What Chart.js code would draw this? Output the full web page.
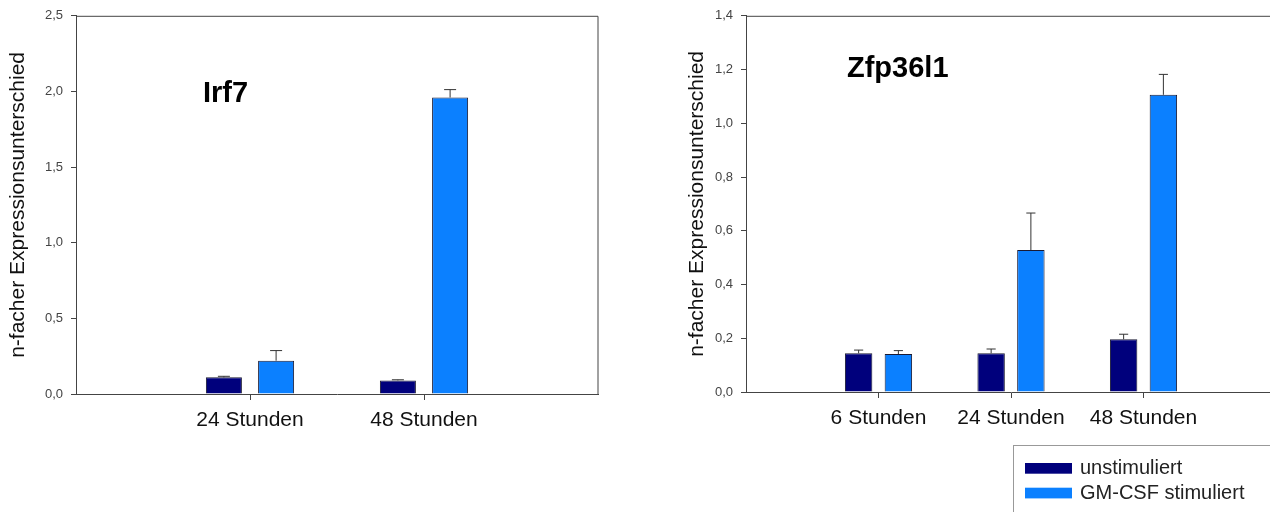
<!DOCTYPE html>
<html>
<head>
<meta charset="utf-8">
<script src="https://cdn.jsdelivr.net/npm/chart.js@4.4.1/dist/chart.umd.min.js"></script>
<style>
    body { margin: 0; width: 1270px; height: 512px; overflow: hidden; background: #fff; position: relative; }
    .box { position: absolute; top: 0; height: 512px; }
    #leftBox { left: 0; width: 620px; }
    #rightBox { left: 660px; width: 630px; }
</style>
</head>
<body>
<div class="box" id="leftBox"><canvas id="irfChart"></canvas></div>
<div class="box" id="rightBox"><canvas id="zfpChart"></canvas></div>
<script>
// data \/
const seriesNames = ['unstimuliert', 'GM-CSF stimuliert'];

const irfLabels = ['', '24 Stunden', '48 Stunden', ''];
const irfUnstim = [null, 0.11, 0.09, null];
const irfUnstimErr = [null, 0.007, 0.004, null];
const irfGm = [null, 0.22, 1.96, null];
const irfGmErr = [null, 0.067, 0.052, null];
const irfTicks = [0, 0.5, 1.0, 1.5, 2.0, 2.5];

const zfpLabels = ['', '6 Stunden', '24 Stunden', '48 Stunden', ''];
const zfpUnstim = [null, 0.144, 0.144, 0.196, null];
const zfpUnstimErr = [null, 0.012, 0.016, 0.019, null];
const zfpGm = [null, 0.141, 0.528, 1.106, null];
const zfpGmErr = [null, 0.013, 0.138, 0.076, null];
const zfpTicks = [0, 0.2, 0.4, 0.6, 0.8, 1.0, 1.2, 1.4];
// data /\

const darkBlue = '#00007c';
const lightBlue = '#0b80ff';
const axisColor = '#444';
const fontName = "'Liberation Sans', Arial, sans-serif";

// error bars (upper only) \/
const errorBars = {
    id: 'errorBars',
    afterDatasetsDraw(chart, args, opts) {
        const ctx = chart.ctx;
        const yScale = chart.scales.y;
        ctx.save();
        ctx.strokeStyle = '#333';
        ctx.lineWidth = 1;
        chart.data.datasets.forEach((ds, i) => {
            const meta = chart.getDatasetMeta(i);
            meta.data.forEach((bar, j) => {
                if (ds.data[j] == null) return;
                const top = yScale.getPixelForValue(ds.data[j] + ds.errors[j]);
                const cap = bar.width / 3;
                ctx.beginPath();
                ctx.moveTo(bar.x, bar.y);
                ctx.lineTo(bar.x, top);
                ctx.moveTo(bar.x - cap / 2, top);
                ctx.lineTo(bar.x + cap / 2, top);
                ctx.stroke();
            });
        });
        ctx.restore();
    }
};
// error bars /\

// frame, gene name and legend \/
const extras = {
    id: 'extras',
    afterDraw(chart, args, opts) {
        const ctx = chart.ctx;
        const a = chart.chartArea;
        ctx.save();
        ctx.strokeStyle = axisColor;
        ctx.lineWidth = 1;
        ctx.beginPath();
        ctx.moveTo(a.left, a.top + 0.5);
        ctx.lineTo(a.right, a.top + 0.5);
        ctx.lineTo(a.right, a.bottom);
        ctx.stroke();

        ctx.fillStyle = '#000';
        ctx.font = 'bold 29px ' + fontName;
        ctx.textBaseline = 'alphabetic';
        ctx.fillText(opts.gene, opts.geneX, opts.geneY);

        if (opts.legend) {
            const L = opts.legend;
            ctx.strokeStyle = '#999';
            ctx.strokeRect(L.x + 0.5, L.y + 0.5, 400, 200);
            ctx.font = '20px ' + fontName;
            ctx.textBaseline = 'middle';
            chart.data.datasets.forEach((ds, i) => {
                const y = L.y + 18 + i * 24.7;
                ctx.fillStyle = ds.backgroundColor;
                ctx.fillRect(L.x + 12, y, 47, 10.7);
                ctx.fillStyle = '#222';
                ctx.fillText(ds.label, L.x + 67, y + 5.5);
            });
        }
        ctx.restore();
    }
};
// frame, gene name and legend /\

function makeDatasets(unstim, unstimErr, gm, gmErr) {
    return [
        { label: seriesNames[0], data: unstim, errors: unstimErr, backgroundColor: darkBlue,
          borderColor: '#1a1a33', borderWidth: 1, categoryPercentage: 0.6, barPercentage: 0.69 },
        { label: seriesNames[1], data: gm, errors: gmErr, backgroundColor: lightBlue,
          borderColor: '#1a1a33', borderWidth: 1, categoryPercentage: 0.6, barPercentage: 0.69 }
    ];
}

function makeOptions(p) {
    return {
        responsive: true,
        maintainAspectRatio: false,
        animation: false,
        layout: { padding: { left: 0, right: p.padRight, top: p.padTop, bottom: 0 } },
        plugins: {
            legend: { display: false },
            tooltip: { enabled: false },
            extras: p.extras
        },
        scales: {
            x: {
                offset: false,
                afterFit: s => { s.height = p.xHeight; },
                border: { color: axisColor, width: 1 },
                grid: {
                    offset: false,
                    drawOnChartArea: false,
                    tickLength: 6,
                    color: c => (c.index > 0 && c.index < p.labelCount - 1) ? axisColor : 'transparent'
                },
                ticks: { color: '#111', font: { family: fontName, size: 21 }, padding: 8, maxRotation: 0, autoSkip: false }
            },
            y: {
                min: 0,
                max: p.yMax,
                afterFit: s => { s.width = p.yWidth; },
                afterBuildTicks: s => { s.ticks = p.ticks.map(v => ({ value: v })); },
                border: { color: axisColor, width: 1 },
                grid: { drawOnChartArea: false, tickLength: 5, color: axisColor },
                ticks: {
                    color: '#444',
                    font: { family: fontName, size: 13 },
                    padding: 8,
                    callback: v => v.toFixed(1).replace('.', ',')
                },
                title: {
                    display: true,
                    text: 'n-facher Expressionsunterschied',
                    color: '#111',
                    font: { family: fontName, size: 21 },
                    padding: { top: p.titlePad, bottom: 0 }
                }
            }
        }
    };
}

// left chart \/
new Chart(document.getElementById('irfChart'), {
    type: 'bar',
    data: { labels: irfLabels, datasets: makeDatasets(irfUnstim, irfUnstimErr, irfGm, irfGmErr) },
    options: makeOptions({
        padRight: 22, padTop: 15, xHeight: 118, yWidth: 76, yMax: 2.5, ticks: irfTicks,
        labelCount: irfLabels.length, titlePad: 6,
        extras: { gene: 'Irf7', geneX: 203, geneY: 101.5 }
    }),
    plugins: [errorBars, extras]
});
// left chart /\

// right chart \/
new Chart(document.getElementById('zfpChart'), {
    type: 'bar',
    data: { labels: zfpLabels, datasets: makeDatasets(zfpUnstim, zfpUnstimErr, zfpGm, zfpGmErr) },
    options: makeOptions({
        padRight: 14, padTop: 13, xHeight: 120, yWidth: 86, yMax: 1.4, ticks: zfpTicks,
        labelCount: zfpLabels.length, titlePad: 25,
        extras: { gene: 'Zfp36l1', geneX: 187, geneY: 77.3, legend: { x: 353, y: 445 } }
    }),
    plugins: [errorBars, extras]
});
// right chart /\
</script>
</body>
</html>
